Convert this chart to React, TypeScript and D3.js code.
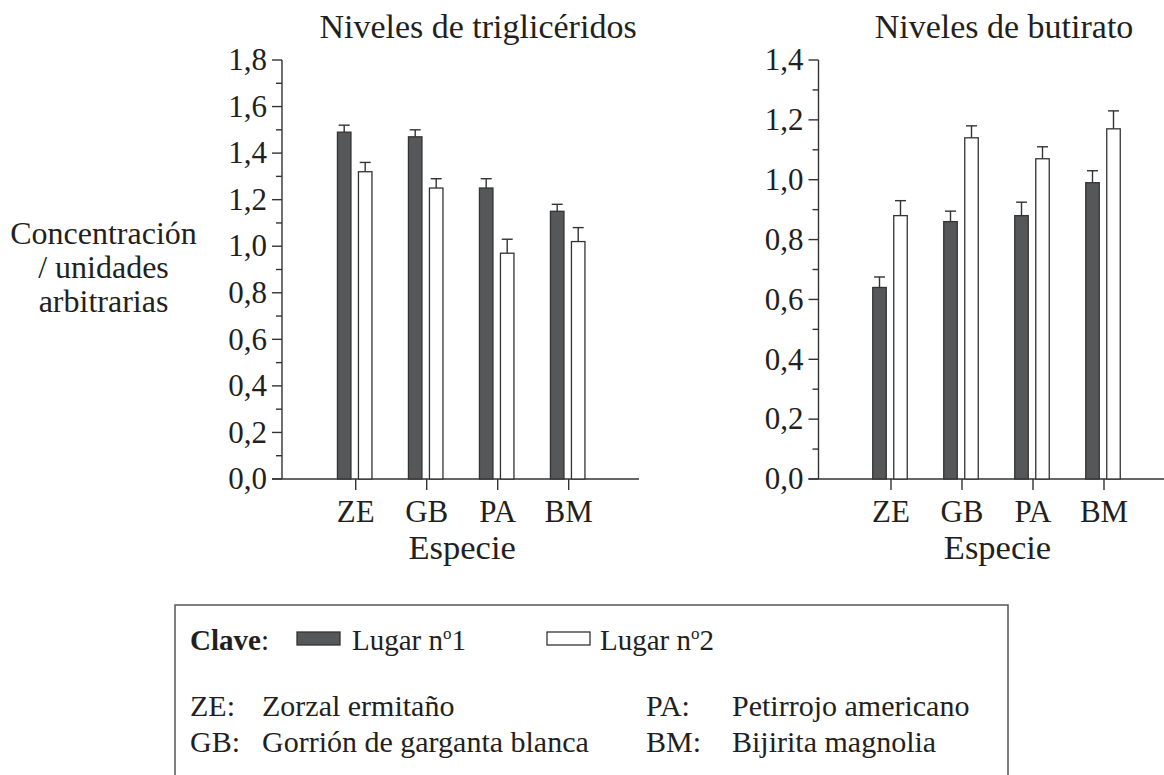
import React, { useEffect, useRef } from 'react';
import * as d3 from 'd3';

const categories = ['ZE', 'GB', 'PA', 'BM'];

const trigSite1 = [1.49, 1.47, 1.25, 1.15];
const trigSite1Err = [0.03, 0.03, 0.04, 0.03];
const trigSite2 = [1.32, 1.25, 0.97, 1.02];
const trigSite2Err = [0.04, 0.04, 0.06, 0.06];

const butSite1 = [0.64, 0.86, 0.88, 0.99];
const butSite1Err = [0.035, 0.035, 0.045, 0.04];
const butSite2 = [0.88, 1.14, 1.07, 1.17];
const butSite2Err = [0.05, 0.04, 0.04, 0.06];

const trigTicks = [0, 0.2, 0.4, 0.6, 0.8, 1.0, 1.2, 1.4, 1.6, 1.8];
const butTicks = [0, 0.2, 0.4, 0.6, 0.8, 1.0, 1.2, 1.4];

const speciesNames = [
  ['ZE:', 'Zorzal ermitaño'],
  ['GB:', 'Gorrión de garganta blanca'],
  ['PA:', 'Petirrojo americano'],
  ['BM:', 'Bijirita magnolia'],
];

const FONT = "'Liberation Serif', 'Times New Roman', Times, serif";
const INK = '#231f20';
const LINE = '#333';
const DARK = '#555759';

interface PanelOpts {
  title: string;
  titleX: number;
  ticks: number[];
  yMax: number;
  axisX: number;
  xEnd: number;
  catStart: number;
  s1: number[];
  s1e: number[];
  s2: number[];
  s2e: number[];
}

export default function App() {
  const svgRef = useRef<SVGSVGElement>(null);

  useEffect(() => {
    if (!svgRef.current) return;
    const svg = d3.select(svgRef.current);
    svg.selectAll('*').remove();

    const top = 60;
    const base = 479;
    const fmt = (v: number) => v.toFixed(1).replace('.', ',');

    const txt = (sel: any, size = 29) =>
      sel.append('text').style('font-family', FONT).style('font-size', `${size}px`).attr('fill', INK);

    const drawPanel = (o: PanelOpts) => {
      const g = svg.append('g');
      const y = d3.scaleLinear().domain([0, o.yMax]).range([base, top]);
      const x = d3.scalePoint<string>().domain(categories).range([o.catStart, o.catStart + 71 * 3]);

      // title
      txt(g, 34)
        .attr('x', o.titleX)
        .attr('y', 38)
        .attr('text-anchor', 'middle')
        .text(o.title);

      // y axis line
      g.append('line')
        .attr('x1', o.axisX).attr('x2', o.axisX)
        .attr('y1', y(o.yMax)).attr('y2', base)
        .attr('stroke', LINE).attr('stroke-width', 1.4);

      // major ticks + labels
      o.ticks.forEach(t => {
        g.append('line')
          .attr('x1', o.axisX - 10).attr('x2', o.axisX)
          .attr('y1', y(t)).attr('y2', y(t))
          .attr('stroke', LINE).attr('stroke-width', 1.4);
        txt(g, 31)
          .attr('x', o.axisX - 15)
          .attr('y', y(t))
          .attr('dy', '0.33em')
          .attr('text-anchor', 'end')
          .text(fmt(t));
      });
      // minor ticks
      o.ticks.slice(1).forEach(t => {
        const m = t - 0.1;
        g.append('line')
          .attr('x1', o.axisX - 6).attr('x2', o.axisX)
          .attr('y1', y(m)).attr('y2', y(m))
          .attr('stroke', LINE).attr('stroke-width', 1.4);
      });

      // x axis
      g.append('line')
        .attr('x1', o.axisX - 10).attr('x2', o.xEnd)
        .attr('y1', base).attr('y2', base)
        .attr('stroke', LINE).attr('stroke-width', 1.4);

      const bw = 13.5;
      const series = [
        { vals: o.s1, errs: o.s1e, off: -11.5, fill: DARK },
        { vals: o.s2, errs: o.s2e, off: 9.5, fill: '#fff' },
      ];
      series.forEach(s => {
        categories.forEach((c, i) => {
          const cx = (x(c) as number) + s.off;
          const v = s.vals[i];
          const e = s.errs[i];
          g.append('line')
            .attr('x1', cx).attr('x2', cx)
            .attr('y1', y(v)).attr('y2', y(v + e))
            .attr('stroke', LINE).attr('stroke-width', 1.4);
          g.append('line')
            .attr('x1', cx - 5.5).attr('x2', cx + 5.5)
            .attr('y1', y(v + e)).attr('y2', y(v + e))
            .attr('stroke', LINE).attr('stroke-width', 1.4);
          g.append('rect')
            .attr('x', cx - bw / 2)
            .attr('y', y(v))
            .attr('width', bw)
            .attr('height', base - y(v))
            .attr('fill', s.fill)
            .attr('stroke', LINE)
            .attr('stroke-width', 1.3);
        });
      });

      // category ticks + labels
      categories.forEach(c => {
        const cx = x(c) as number;
        g.append('line')
          .attr('x1', cx).attr('x2', cx)
          .attr('y1', base).attr('y2', base + 11)
          .attr('stroke', LINE).attr('stroke-width', 1.4);
        txt(g, 31)
          .attr('x', cx)
          .attr('y', 522)
          .attr('text-anchor', 'middle')
          .text(c);
      });

      txt(g, 34.5)
        .attr('x', ((x(categories[0]) as number) + (x(categories[3]) as number)) / 2)
        .attr('y', 559)
        .attr('text-anchor', 'middle')
        .text('Especie');
    };

    drawPanel({
      title: 'Niveles de triglicéridos',
      titleX: 478,
      ticks: trigTicks,
      yMax: 1.8,
      axisX: 282,
      xEnd: 639,
      catStart: 355.7,
      s1: trigSite1, s1e: trigSite1Err,
      s2: trigSite2, s2e: trigSite2Err,
    });

    drawPanel({
      title: 'Niveles de butirato',
      titleX: 1004,
      ticks: butTicks,
      yMax: 1.4,
      axisX: 818.5,
      xEnd: 1164,
      catStart: 891,
      s1: butSite1, s1e: butSite1Err,
      s2: butSite2, s2e: butSite2Err,
    });

    // y-axis label
    const yl = txt(svg, 32).attr('text-anchor', 'middle');
    ['Concentración', '/ unidades', 'arbitrarias'].forEach((t, i) => {
      yl.append('tspan').attr('x', 103.5).attr('y', 244 + i * 34).text(t);
    });

    // legend box
    const lg = svg.append('g');
    lg.append('rect')
      .attr('x', 175).attr('y', 605)
      .attr('width', 833).attr('height', 260)
      .attr('fill', 'none')
      .attr('stroke', '#555')
      .attr('stroke-width', 1.5);

    const row1 = 650;
    const clave = txt(lg, 29).attr('x', 190).attr('y', row1);
    clave.append('tspan').attr('font-weight', 'bold').text('Clave');
    clave.append('tspan').text(':');

    const keys = [
      { sx: 297, tx: 352, fill: DARK, label: '1' },
      { sx: 547, tx: 600, fill: '#fff', label: '2' },
    ];
    keys.forEach(k => {
      lg.append('rect')
        .attr('x', k.sx).attr('y', row1 - 18)
        .attr('width', 43).attr('height', 13)
        .attr('fill', k.fill)
        .attr('stroke', LINE).attr('stroke-width', 1.3);
      const t = txt(lg, 29).attr('x', k.tx).attr('y', row1);
      t.append('tspan').text('Lugar n');
      t.append('tspan').attr('dy', -11).style('font-size', '17px').text('o');
      t.append('tspan').attr('dy', 11).text(k.label);
    });

    speciesNames.forEach(([ab, name], i) => {
      const col = Math.floor(i / 2);
      const row = i % 2;
      const yy = 716 + row * 36;
      txt(lg, 30)
        .attr('x', col === 0 ? 190 : 646)
        .attr('y', yy)
        .text(ab);
      txt(lg, 30)
        .attr('x', col === 0 ? 262 : 732)
        .attr('y', yy)
        .text(name);
    });
  }, []);

  return (
    <svg
      ref={svgRef}
      width={1164}
      height={775}
      style={{ position: 'absolute', left: 0, top: 0, background: '#fff' }}
    />
  );
}
